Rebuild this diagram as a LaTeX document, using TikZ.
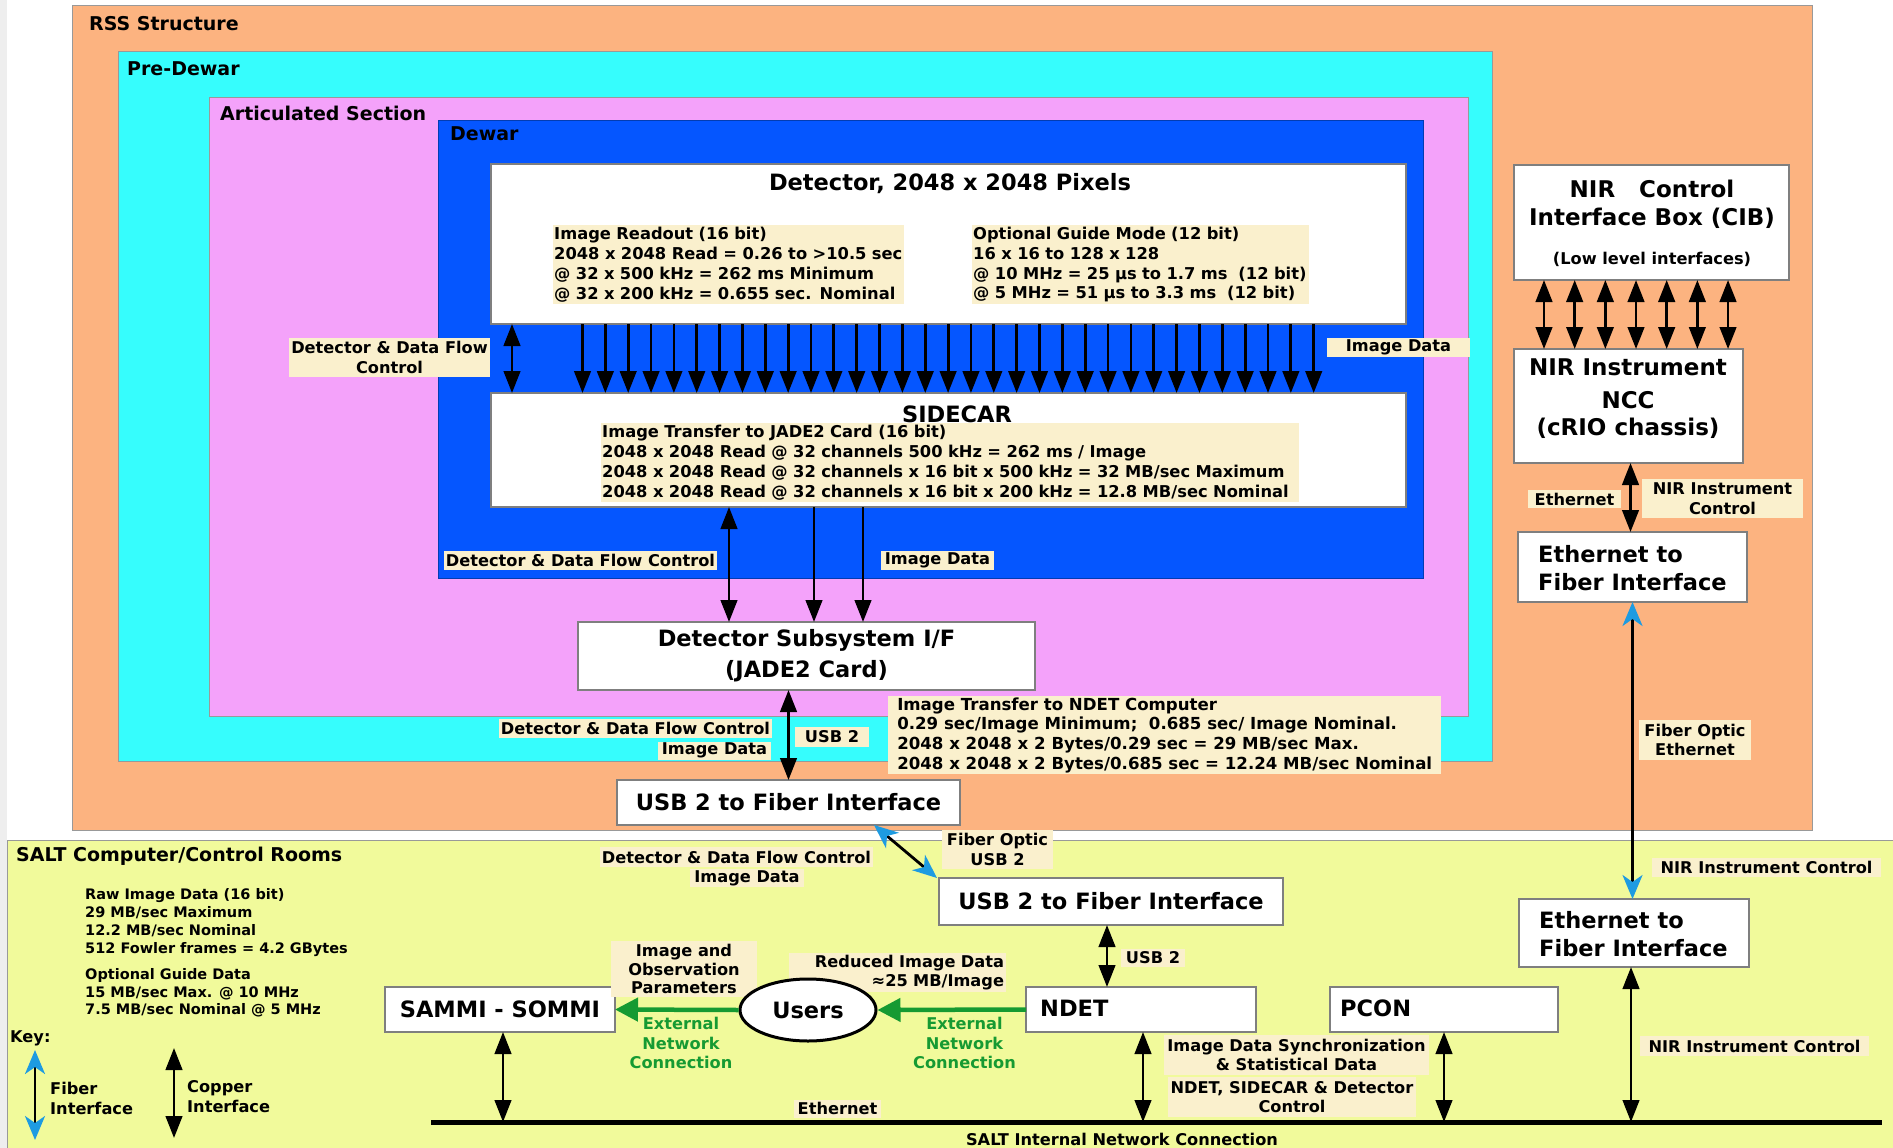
\documentclass[tikz,border=0pt]{standalone}
\usepackage{fontspec}
\setmainfont{DejaVu Sans}
\usetikzlibrary{arrows.meta,shapes.geometric,calc}

\definecolor{rssorange}{HTML}{FCB380}
\definecolor{precyan}{HTML}{36FDFD}
\definecolor{artpink}{HTML}{F4A2FA}
\definecolor{dewarblue}{HTML}{0556FF}
\definecolor{saltyellow}{HTML}{F1FA9B}
\definecolor{cream}{HTML}{FAF0CD}
\definecolor{edgegray}{HTML}{7F7F7F}
\definecolor{fiberblue}{HTML}{1E9BE1}
\definecolor{netgreen}{HTML}{169A32}
\definecolor{stripgray}{HTML}{EEEEEE}

\newcommand\fz[2]{\fontsize{#1}{#2}\selectfont\bfseries}

\begin{document}
\begin{tikzpicture}[x=1pt,y=-1pt,
  region/.style={draw=edgegray!80, line width=1pt, inner sep=0pt, outer sep=0pt, anchor=north west},
  box/.style={draw=edgegray, line width=1.3pt, fill=white, inner sep=0pt, outer sep=0pt, anchor=north west},
  title/.style={anchor=west, inner sep=0pt, font=\fz{19}{23}},
  big/.style={inner sep=0pt, font=\fz{22.5}{27}},
  lab/.style={fill=cream, inner xsep=2pt, inner ysep=0pt, align=center, font=\fz{16.2}{19.5}},
  blk/.style={fill=cream, inner xsep=1pt, inner ysep=0pt, align=left, anchor=north west, font=\fz{16.3}{19.7}},
  plain/.style={inner sep=0pt, font=\fz{16.2}{19.5}},
  cu/.style={line width=2.8pt, -{Triangle[length=22pt,width=16.5pt]}},
  cu2/.style={line width=2.8pt, {Triangle[length=22pt,width=16.5pt]}-{Triangle[length=22pt,width=16.5pt]}},
  fib/.style={line width=2.8pt, {Stealth[length=24pt,width=20pt,inset=7pt,color=fiberblue]}-{Stealth[length=24pt,width=20pt,inset=7pt,color=fiberblue]}},
  grn/.style={line width=4.5pt, draw=netgreen, -{Triangle[length=23pt,width=23pt]}}
]
\useasboundingbox (0,0) rectangle (1893,1148);
\fill[white] (0,0) rectangle (1893,1148);
\fill[stripgray] (0,0) rectangle (7,1148);

% nested enclosures
\node[region, fill=rssorange, minimum width=1740, minimum height=824] (rss) at (72,6) {};
\node[region, fill=precyan, minimum width=1374, minimum height=709] (predewar) at (118,52) {};
\node[region, fill=artpink, minimum width=1259, minimum height=619] (artic) at (209,97) {};
\node[region, fill=dewarblue, draw=dewarblue!70!black, minimum width=985, minimum height=458] (dewar) at (438,120) {};
\node[region, fill=saltyellow, minimum width=1886, minimum height=308] (salt) at (7,840) {};

\node[title] (tRSS) at (89,24) {RSS Structure};
\node[title] (tPre) at (127,69) {Pre-Dewar};
\node[title] (tArt) at (220,113) {Articulated Section};
\node[title] (tDew) at (450,134) {Dewar};
\node[title] (tSalt) at (16,856) {SALT Computer/Control Rooms};

% boxes
\node[box, minimum width=915, minimum height=160] (det) at (491,164) {};
\node[box, minimum width=915, minimum height=114] (side) at (491,393) {};
\node[box, minimum width=457, minimum height=68, font=\fz{22.5}{31}, align=center] (jade) at (578,622) {Detector Subsystem I/F\\(JADE2 Card)};
\node[box, minimum width=343, minimum height=45, font=\fz{22.5}{27}] (usbA) at (617,780) {USB 2 to Fiber Interface};
\node[box, minimum width=344, minimum height=47, font=\fz{22.5}{27}] (usbB) at (939,878) {USB 2 to Fiber Interface};
\node[box, minimum width=230, minimum height=45] (ndet) at (1026,987) {};
\node[box, minimum width=228, minimum height=45] (pcon) at (1330,987) {};
\node[box, minimum width=230, minimum height=45, font=\fz{22.5}{27}] (sammi) at (385,987) {SAMMI - SOMMI};
\node[box, minimum width=275, minimum height=115] (cib) at (1514,165) {};
\node[box, minimum width=229, minimum height=114] (ncc) at (1514,349) {};
\node[box, minimum width=229, minimum height=70] (efA) at (1518,532) {};
\node[box, minimum width=230, minimum height=68] (efB) at (1519,899) {};

% texts inside boxes
\node[big] (detT) at (950,184) {Detector, 2048 x 2048 Pixels};
\node[big] (sideT) at (957,414) {SIDECAR};
\node[big, anchor=west] (ndetT) at (1040,1008) {NDET};
\node[big, anchor=west] (pconT) at (1340,1008) {PCON};
\node[big, font=\fz{23}{27}] (cib1) at (1652,189) {NIR\ \ \ Control};
\node[big, font=\fz{23}{27}] (cib2) at (1652,218) {Interface Box (CIB)};
\node[plain] (cib3) at (1652,259) {(Low level interfaces)};
\node[big, font=\fz{23}{27}] (ncc1) at (1628,367) {NIR Instrument};
\node[big, font=\fz{23}{27}] (ncc2) at (1628,400) {NCC};
\node[big, font=\fz{23}{27}] (ncc3) at (1628,428) {(cRIO chassis)};
\node[big, anchor=west, align=left, font=\fz{22.5}{27.5}] (efAT) at (1538,568) {Ethernet to\\Fiber Interface};
\node[big, anchor=west, align=left, font=\fz{22.5}{27.5}] (efBT) at (1539,934) {Ethernet to\\Fiber Interface};

% data blocks
\node[blk, text width=349, minimum height=79] (readout) at (553,225)
  {Image Readout (16 bit)\\2048 x 2048 Read = 0.26 to >10.5 sec\\@ 32 x 500 kHz = 262 ms Minimum\\@ 32 x 200 kHz = 0.655 sec. Nominal};
\node[blk, text width=335, minimum height=79] (guide) at (972,225)
  {Optional Guide Mode (12 bit)\\16 x 16 to 128 x 128\\@ 10 MHz = 25 µs to 1.7 ms\ \ (12 bit)\\@ 5 MHz = 51 µs to 3.3 ms\ \ (12 bit)};
\node[blk, text width=696, minimum height=79] (sideB) at (601,423)
  {Image Transfer to JADE2 Card (16 bit)\\2048 x 2048 Read @ 32 channels 500 kHz = 262 ms / Image\\2048 x 2048 Read @ 32 channels x 16 bit x 500 kHz = 32 MB/sec Maximum\\2048 x 2048 Read @ 32 channels x 16 bit x 200 kHz = 12.8 MB/sec Nominal};
\node[blk, minimum width=553, minimum height=78, font=\fz{16.6}{19.6}] (xfer) at (888,696)
  {Image Transfer to NDET Computer\\0.29 sec/Image Minimum;\ \ 0.685 sec/ Image Nominal.\\2048 x 2048 x 2 Bytes/0.29 sec = 29 MB/sec Max.\\2048 x 2048 x 2 Bytes/0.685 sec = 12.24 MB/sec Nominal};

% labels
\node[lab, minimum width=201, minimum height=39] (lDfc1) at (389.5,357.5) {Detector \& Data Flow\\Control};
\node[lab, minimum width=143, minimum height=19] (lImg1) at (1398.5,347.5) {Image Data};
\node[lab, minimum width=273, minimum height=19] (lDfc2) at (580.5,560) {Detector \& Data Flow Control};
\node[lab, minimum width=113, minimum height=19] (lImg2) at (937.5,560) {Image Data};
\node[lab, minimum width=271, minimum height=19] (lDfc3) at (635.5,728.5) {Detector \& Data Flow Control};
\node[lab, minimum width=113, minimum height=18] (lImg3) at (714.5,750.5) {Image Data};
\node[lab, minimum width=74, minimum height=20] (lUsb1) at (832,737) {USB 2};
\node[lab, minimum width=111, minimum height=39] (lFou) at (997.5,849.5) {Fiber Optic\\USB 2};
\node[lab, minimum width=273, minimum height=20] (lDfc4) at (736.5,857) {Detector \& Data Flow Control};
\node[lab, minimum width=114, minimum height=18] (lImg4) at (747,878) {Image Data};
\node[lab, minimum width=64, minimum height=18] (lUsb2) at (1153,958) {USB 2};
\node[lab, minimum width=146, minimum height=56, font=\fz{16.2}{18.7}] (lObs) at (684,969) {Image and\\Observation\\Parameters};
\node[lab, text width=213, minimum height=39, align=right] (lRed) at (897.5,972.5) {Reduced Image Data\\≈25 MB/Image};
\node[lab, minimum width=265, minimum height=40] (lSync) at (1296.5,1055) {Image Data Synchronization\\\& Statistical Data};
\node[lab, minimum width=248, minimum height=40] (lCtl) at (1292,1097) {NDET, SIDECAR \& Detector\\Control};
\node[lab, minimum width=87, minimum height=18] (lEth1) at (837.5,1108.5) {Ethernet};
\node[lab, minimum width=93, minimum height=18] (lEth2) at (1574.5,499) {Ethernet};
\node[lab, minimum width=161, minimum height=39] (lNir1) at (1722.5,498.5) {NIR Instrument\\Control};
\node[lab, minimum width=112, minimum height=40] (lFoe) at (1695,740) {Fiber Optic\\Ethernet};
\node[lab, minimum width=229, minimum height=19] (lNir2) at (1766.5,867.5) {NIR Instrument Control};
\node[lab, minimum width=229, minimum height=20] (lNir3) at (1754.5,1046) {NIR Instrument Control};

\node[plain] (netT) at (1122,1139) {SALT Internal Network Connection};
\node[plain, text=netgreen, align=center] (ext1) at (681,1043) {External\\Network\\Connection};
\node[plain, text=netgreen, align=center] (ext2) at (964.5,1043) {External\\Network\\Connection};

\node[anchor=west, align=left, inner sep=0pt, font=\fz{14.5}{18}] (raw) at (85,923)
  {Raw Image Data (16 bit)\\29 MB/sec Maximum\\12.2 MB/sec Nominal\\512 Fowler frames = 4.2 GBytes};
\node[anchor=west, align=left, inner sep=0pt, font=\fz{14.5}{17.5}] (rawG) at (85,993)
  {Optional Guide Data\\15 MB/sec Max. @ 10 MHz\\7.5 MB/sec Nominal @ 5 MHz};

% key
\node[plain, anchor=west] (key) at (10,1038) {Key:};
\node[plain, anchor=west, align=left, font=\fz{16.2}{20}] (keyF) at (50,1098) {Fiber\\Interface};
\node[plain, anchor=west, align=left, font=\fz{16.2}{20}] (keyC) at (187,1097) {Copper\\Interface};
\coordinate (kf1) at (35,1050);
\coordinate (kf2) at (35,1140);
\coordinate (kc1) at (174,1048);
\coordinate (kc2) at (174,1138);
\draw[fib] (kf1) -- (kf2);
\draw[cu2] (kc1) -- (kc2);

% Users
\node[ellipse, draw, line width=3pt, fill=white, minimum width=136, minimum height=62, inner sep=0pt, font=\fz{22.5}{27}] (users) at (808,1010) {Users};

% network line
\coordinate (netL) at (431,1122);
\coordinate (netR) at (1882,1122);
\draw[line width=5pt] (netL) -- (netR);

% detector to SIDECAR
\draw[cu2] ([xshift=21pt]det.south west) -- ([xshift=21pt]side.north west);
\foreach \i in {0,...,32}
  \draw[cu] ([xshift={91.5+22.85*\i}]det.south west) -- ([xshift={91.5+22.85*\i}]side.north west);

% SIDECAR to JADE2
\draw[cu2] ([xshift=238pt]side.south west) -- ([xshift=151pt]jade.north west);
\draw[cu] ([xshift=323pt]side.south west) -- ([xshift=236pt]jade.north west);
\draw[cu] ([xshift=372pt]side.south west) -- ([xshift=285pt]jade.north west);

% JADE2 to USB fiber interfaces
\draw[cu2] (usbA.north |- jade.south) -- (usbA.north);
\draw[fib] ([xshift=-86pt]usbA.south east) -- ([xshift=-2pt]usbB.north west);
\draw[cu2] ([xshift=-4pt]usbB.south) -- ([xshift=-4pt]usbB.south |- ndet.north);

% external network
\draw[grn] (ndet.west) -- (users.east);
\draw[grn] (users.west) -- (sammi.east);

% internal network drops
\draw[cu2] ([xshift=3pt]sammi.south) -- ([xshift=3pt]sammi.south |- netL);
\draw[cu2] ([xshift=2pt]ndet.south) -- ([xshift=2pt]ndet.south |- netL);
\draw[cu2] (pcon.south) -- (pcon.south |- netL);
\draw[cu2] ([xshift=-3pt]efB.south) -- ([xshift=-3pt]efB.south |- netL);

% NIR chain
\foreach \i in {0,...,6}
  \draw[cu2] ([xshift={30+30.67*\i}]cib.south west) -- ([xshift={30+30.67*\i}]ncc.north west);
\draw[cu2] ([xshift=2pt]ncc.south) -- ([xshift=2pt]ncc.south |- efA.north);
\draw[fib] (efA.south) -- (efA.south |- efB.north);
\end{tikzpicture}
\end{document}
